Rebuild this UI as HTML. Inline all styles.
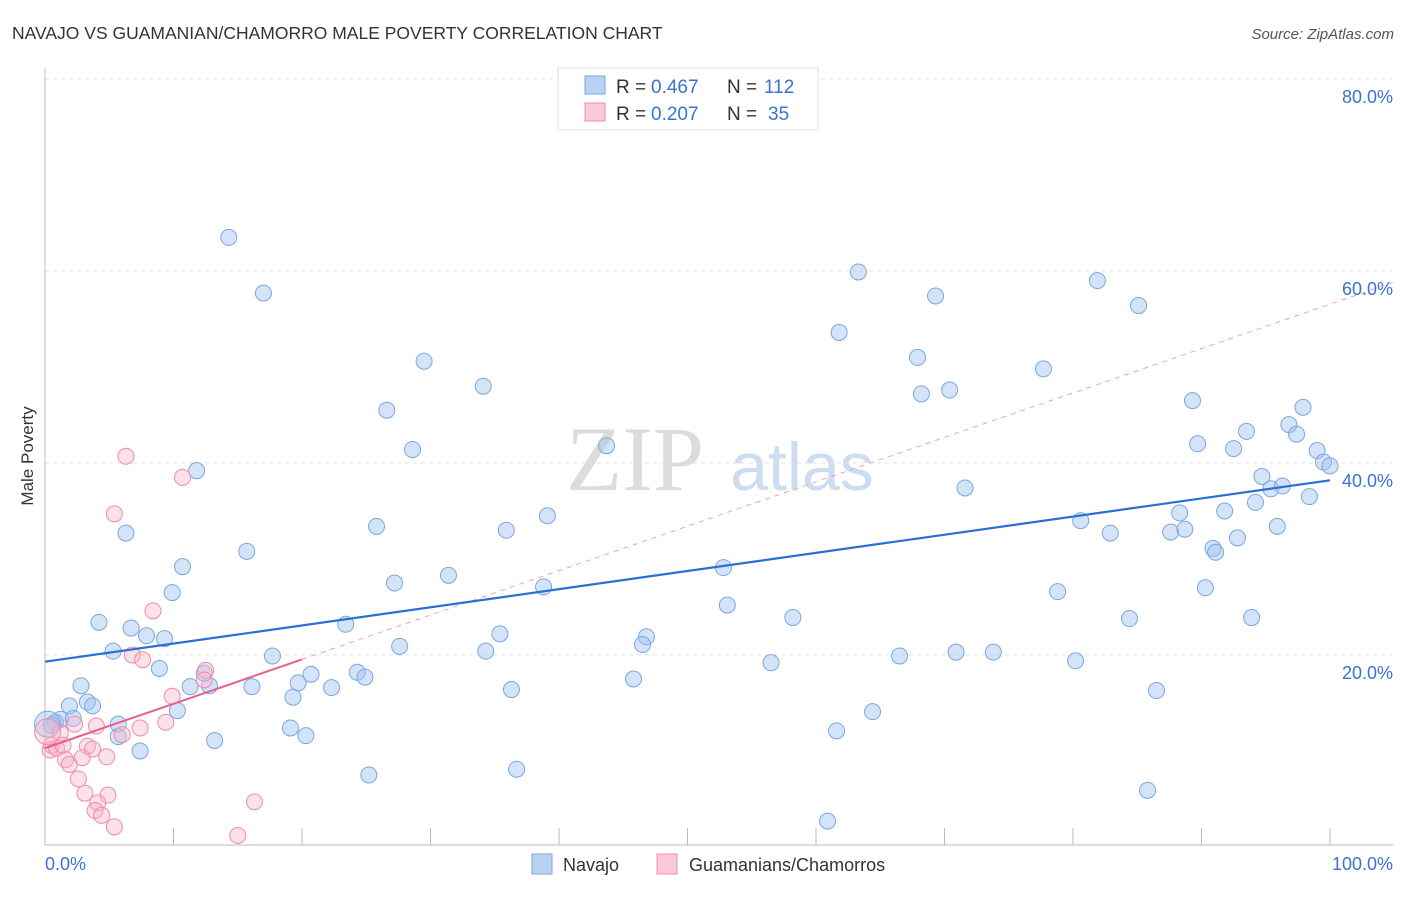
<!DOCTYPE html>
<html><head><meta charset="utf-8"><style>
body{margin:0;background:#fff;font-family:"Liberation Sans",sans-serif;}
</style></head><body>
<svg id="chart" width="1406" height="892" xmlns="http://www.w3.org/2000/svg" font-family="Liberation Sans, sans-serif">
<text x="12" y="39" font-size="17.5" fill="#333">NAVAJO VS GUAMANIAN/CHAMORRO MALE POVERTY CORRELATION CHART</text>
<text x="1394" y="39" font-size="15" fill="#555" font-style="italic" text-anchor="end">Source: ZipAtlas.com</text>
<g>
<text x="635" y="490" font-size="92" fill="#dcdcdc" font-family="Liberation Serif, serif" text-anchor="middle">ZIP</text>
<text x="802" y="490" font-size="68" fill="#cddcf0" text-anchor="middle">atlas</text>
</g>
<g id="grid"></g>
<g id="axes"></g>
<g id="pts"></g>
<text transform="translate(33,456) rotate(-90)" font-size="17" fill="#333" text-anchor="middle">Male Poverty</text>
<g>
<rect x="558" y="68" width="260" height="62" fill="#fff" stroke="#ddd"/>
<rect x="585" y="76" width="20" height="18" fill="#b8d2f5" stroke="#7aa7e0"/>
<rect x="585" y="103" width="20" height="18" fill="#fac8d6" stroke="#f08cab"/>
<text x="616" y="93" font-size="19" fill="#333">R =</text>
<text x="651" y="93" font-size="19" fill="#3a73cf">0.467</text>
<text x="727" y="93" font-size="19" fill="#333">N =</text>
<text x="764" y="93" font-size="19" fill="#3a73cf">112</text>
<text x="616" y="120" font-size="19" fill="#333">R =</text>
<text x="651" y="120" font-size="19" fill="#3a73cf">0.207</text>
<text x="727" y="120" font-size="19" fill="#333">N =</text>
<text x="768" y="120" font-size="19" fill="#3a73cf">35</text>
</g>
<g>
<rect x="532" y="854" width="20" height="20" fill="#b8d2f5" stroke="#7aa7e0"/>
<text x="563" y="871" font-size="18" fill="#333">Navajo</text>
<rect x="657" y="854" width="20" height="20" fill="#fac8d6" stroke="#f08cab"/>
<text x="689" y="871" font-size="18" fill="#333">Guamanians/Chamorros</text>
</g>
</svg>
<script>
const yTicks=[20,40,60,80];
const yTickLabels=["20.0%","40.0%","60.0%","80.0%"];
const xTickLabels=["0.0%","100.0%"];
const navajoX=[14.3,17.0,29.5,34.1,26.6,28.6,11.8,6.3,15.7,10.7,9.9,4.2,6.7,7.9,9.3,5.3,8.9,2.8,1.9,3.3,3.7,1.2,2.2,0.8,0.5,5.7,5.7,7.4,10.3,11.3,12.8,12.4,16.1,17.7,19.7,20.7,19.3,22.3,19.1,20.3,13.2,23.4,25.8,27.2,27.6,24.3,24.9,31.4,35.9,39.1,38.8,35.4,34.3,36.3,25.2,36.7,43.7,46.8,46.5,45.8,52.8,53.1,56.5,58.2,61.6,60.9,64.4,61.8,63.3,67.9,69.3,68.2,70.4,66.5,70.9,73.8,71.6,77.7,78.8,80.2,80.6,82.9,81.9,85.1,84.4,86.5,85.8,89.3,89.7,88.3,87.6,88.7,90.9,91.1,90.3,92.5,93.5,91.8,92.8,93.9,94.7,94.2,95.4,96.3,95.9,96.8,97.4,97.9,98.4,99.0,99.5,100.0,0.2];
const navajoY=[63.5,57.7,50.6,48.0,45.5,41.4,39.2,32.7,30.8,29.2,26.5,23.4,22.8,22.0,21.7,20.4,18.6,16.8,14.7,15.1,14.7,13.3,13.4,13.0,12.7,12.8,11.5,10.0,14.2,16.7,16.8,18.1,16.7,19.9,17.1,18.0,15.6,16.6,12.4,11.6,11.1,23.2,33.4,27.5,20.9,18.2,17.7,28.3,33.0,34.5,27.1,22.2,20.4,16.4,7.5,8.1,41.8,21.9,21.1,17.5,29.1,25.2,19.2,23.9,12.1,2.7,14.1,53.6,59.9,51.0,57.4,47.2,47.6,19.9,20.3,20.3,37.4,49.8,26.6,19.4,34.0,32.7,59.0,56.4,23.8,16.3,5.9,46.5,42.0,34.8,32.8,33.1,31.1,30.7,27.0,41.5,43.3,35.0,32.2,23.9,38.6,35.9,37.3,37.6,33.4,44.0,43.0,45.8,36.5,41.3,40.1,39.7,12.8];
const guamX=[6.3,10.7,5.4,8.4,6.8,7.6,12.5,9.9,12.4,9.4,7.4,6.0,4.0,2.3,1.2,0.5,0.4,0.9,1.4,3.3,3.7,1.6,1.9,2.9,4.8,2.6,3.1,4.9,4.1,3.9,4.4,5.4,15.0,16.3,0.2];
const guamY=[40.7,38.5,34.7,24.6,20.0,19.5,18.4,15.7,17.4,13.0,12.4,11.7,12.6,12.8,11.9,10.6,10.1,10.3,10.6,10.5,10.2,9.1,8.6,9.3,9.4,7.1,5.6,5.4,4.6,3.8,3.3,2.1,1.2,4.7,12.0];
const navajoTrend=[19.3,38.2];
const guamTrend=[10.3,56.5];
const guamSolidEnd=20;
const X0=45,X1=1330,Y0=847,PY=9.6;
const sx=v=>X0+(X1-X0)*v/100, sy=v=>Y0-v*PY;
const NS="http://www.w3.org/2000/svg";
function mk(tag,attrs,parent){const e=document.createElementNS(NS,tag);for(const k in attrs)e.setAttribute(k,attrs[k]);parent.appendChild(e);return e;}
const grid=document.getElementById('grid'),axes=document.getElementById('axes'),pts=document.getElementById('pts');
yTicks.forEach((t,i)=>{
 const l=mk('line',{x1:45,x2:1393,y1:sy(t),y2:sy(t),stroke:'#e2e2e2','stroke-dasharray':'4,4'},grid);
 
 
 const tx=mk('text',{x:1393,y:sy(t)+24,'font-size':18,fill:'#3a73cf','text-anchor':'end'},grid);
 tx.textContent=yTickLabels[i];
 
 
});
const ax=mk('line',{x1:45,x2:1393,y1:845,y2:845,stroke:'#bbb'},axes);


const ay=mk('line',{x1:45,x2:45,y1:68,y2:845,stroke:'#bbb'},axes);


for(let i=0;i<=10;i++){const t=mk('line',{x1:sx(i*10),x2:sx(i*10),y1:828,y2:845,stroke:'#bbb'},axes);
 
 }
[[0,'start',45],[1,'end',1393]].forEach(([i,a,x])=>{const t=mk('text',{x:x,y:870,'font-size':18,fill:'#3a73cf','text-anchor':a},axes);t.textContent=xTickLabels[i];
 
 });
function dots(xs,ys,fill,stroke,name){xs.forEach((x,i)=>{const big=i===xs.length-1;
 const c=mk('circle',{cx:sx(x),cy:sy(ys[i]),r:big?13:8,fill:fill,stroke:stroke,'stroke-width':1},pts);
 
 });}
dots(navajoX,navajoY,'rgba(160,196,240,0.45)','#7aa7e0','navajo-point');
dots(guamX,guamY,'rgba(248,180,200,0.4)','#f08cab','guamanian-point');
const gy=v=>guamTrend[0]+(guamTrend[1]-guamTrend[0])*v/100;
const gd=mk('line',{x1:sx(guamSolidEnd),y1:sy(gy(guamSolidEnd)),x2:1393,y2:sy(gy(105)),stroke:'#f0a0b8','stroke-dasharray':'5,5','stroke-width':1},pts);


const gs=mk('line',{x1:sx(0),y1:sy(gy(0)),x2:sx(guamSolidEnd),y2:sy(gy(guamSolidEnd)),stroke:'#e8608c','stroke-width':2},pts);


const nl=mk('line',{x1:sx(0),y1:sy(navajoTrend[0]),x2:sx(100),y2:sy(navajoTrend[1]),stroke:'#2a6fd6','stroke-width':2.2},pts);


</script>
</body></html>
